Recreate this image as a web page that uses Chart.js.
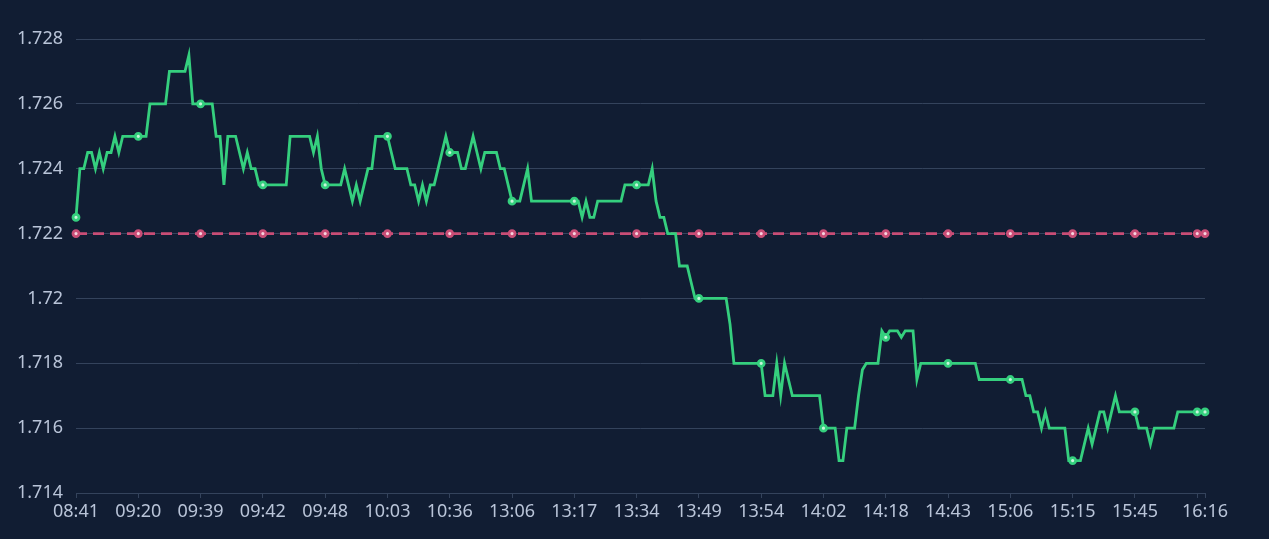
<!DOCTYPE html>
<html>
<head>
<meta charset="utf-8">
<script src="https://cdn.jsdelivr.net/npm/chart.js@4.4.1/dist/chart.umd.min.js"></script>
<style>
    html, body { margin: 0; padding: 0; background: #111d33; }
    #wrap { width: 1269px; height: 539px; }
</style>
</head>
<body>
<div id="wrap"><canvas id="priceChart"></canvas></div>
<script>
// price ticks, one row per label interval (16 points each)
const prices = [
    1.7225, 1.724, 1.724, 1.7245, 1.7245, 1.724, 1.7245, 1.724, 1.7245, 1.7245, 1.725, 1.7245, 1.725, 1.725, 1.725, 1.725,
    1.725, 1.725, 1.725, 1.726, 1.726, 1.726, 1.726, 1.726, 1.727, 1.727, 1.727, 1.727, 1.727, 1.7275, 1.726, 1.726,
    1.726, 1.726, 1.726, 1.726, 1.725, 1.725, 1.7235, 1.725, 1.725, 1.725, 1.7245, 1.724, 1.7245, 1.724, 1.724, 1.7235,
    1.7235, 1.7235, 1.7235, 1.7235, 1.7235, 1.7235, 1.7235, 1.725, 1.725, 1.725, 1.725, 1.725, 1.725, 1.7245, 1.725, 1.724,
    1.7235, 1.7235, 1.7235, 1.7235, 1.7235, 1.724, 1.7235, 1.723, 1.7235, 1.723, 1.7235, 1.724, 1.724, 1.725, 1.725, 1.725,
    1.725, 1.7245, 1.724, 1.724, 1.724, 1.724, 1.7235, 1.7235, 1.723, 1.7235, 1.723, 1.7235, 1.7235, 1.724, 1.7245, 1.725,
    1.7245, 1.7245, 1.7245, 1.724, 1.724, 1.7245, 1.725, 1.7245, 1.724, 1.7245, 1.7245, 1.7245, 1.7245, 1.724, 1.724, 1.7235,
    1.723, 1.723, 1.723, 1.7235, 1.724, 1.723, 1.723, 1.723, 1.723, 1.723, 1.723, 1.723, 1.723, 1.723, 1.723, 1.723,
    1.723, 1.723, 1.7225, 1.723, 1.7225, 1.7225, 1.723, 1.723, 1.723, 1.723, 1.723, 1.723, 1.723, 1.7235, 1.7235, 1.7235,
    1.7235, 1.7235, 1.7235, 1.7235, 1.724, 1.723, 1.7225, 1.7225, 1.722, 1.722, 1.722, 1.721, 1.721, 1.721, 1.7205, 1.720,
    1.720, 1.720, 1.720, 1.720, 1.720, 1.720, 1.720, 1.720, 1.7192, 1.718, 1.718, 1.718, 1.718, 1.718, 1.718, 1.718,
    1.718, 1.717, 1.717, 1.717, 1.718, 1.717, 1.718, 1.7175, 1.717, 1.717, 1.717, 1.717, 1.717, 1.717, 1.717, 1.717,
    1.716, 1.716, 1.716, 1.716, 1.715, 1.715, 1.716, 1.716, 1.716, 1.717, 1.7178, 1.718, 1.718, 1.718, 1.718, 1.719,
    1.7188, 1.719, 1.719, 1.719, 1.7188, 1.719, 1.719, 1.719, 1.7175, 1.718, 1.718, 1.718, 1.718, 1.718, 1.718, 1.718,
    1.718, 1.718, 1.718, 1.718, 1.718, 1.718, 1.718, 1.718, 1.7175, 1.7175, 1.7175, 1.7175, 1.7175, 1.7175, 1.7175, 1.7175,
    1.7175, 1.7175, 1.7175, 1.7175, 1.717, 1.717, 1.7165, 1.7165, 1.716, 1.7165, 1.716, 1.716, 1.716, 1.716, 1.716, 1.715,
    1.715, 1.715, 1.715, 1.7155, 1.716, 1.7155, 1.716, 1.7165, 1.7165, 1.716, 1.7165, 1.717, 1.7165, 1.7165, 1.7165, 1.7165,
    1.7165, 1.716, 1.716, 1.716, 1.7155, 1.716, 1.716, 1.716, 1.716, 1.716, 1.716, 1.7165, 1.7165, 1.7165, 1.7165, 1.7165,
    1.7165, 1.7165, 1.7165
];

const basePrice = 1.722;

// axis ticks (point index) and their labels
const tickIndex = [0, 16, 32, 48, 64, 80, 96, 112, 128, 144, 160, 176, 192, 208, 224, 240, 256, 272, 288, 290];
const timeLabels = ['08:41', '09:20', '09:39', '09:42', '09:48', '10:03', '10:36', '13:06', '13:17', '13:34',
    '13:49', '13:54', '14:02', '14:18', '14:43', '15:06', '15:15', '15:45', '', '16:16'];

const yTicks = { min: 1.714, max: 1.728, step: 0.002 };

const gridColor = '#34435c';
const textColor = '#b9c4d8';
const lineGreen = '#35cf7e';
const linePink = '#c94d76';

const priceData = prices.map((v, i) => ({ x: i, y: v }));
const baseData = prices.map((_, i) => ({ x: i, y: basePrice }));

function dotRadius(ctx) {
    return tickIndex.includes(ctx.dataIndex) ? 3 : 0;
}

const ctx = document.getElementById('priceChart').getContext('2d');
new Chart(ctx, {
    type: 'line',
    data: {
        datasets: [{
            label: 'price',
            data: priceData,
            borderColor: lineGreen,
            borderWidth: 2.8,
            tension: 0,
            clip: 10,
            pointRadius: dotRadius,
            pointBorderWidth: 2.8,
            pointBorderColor: lineGreen,
            pointBackgroundColor: '#c8f5dc'
        }, {
            label: 'base',
            data: baseData,
            borderColor: linePink,
            borderWidth: 2.8,
            borderDash: [11, 6],
            tension: 0,
            clip: 10,
            pointRadius: dotRadius,
            pointBorderWidth: 2.8,
            pointBorderColor: linePink,
            pointBackgroundColor: '#f7d3df'
        }]
    },
    options: {
        responsive: true,
        maintainAspectRatio: false,
        animation: false,
        layout: {
            padding: { left: 0, right: 64, top: 39, bottom: 0 }
        },
        plugins: {
            legend: { display: false },
            tooltip: { enabled: false }
        },
        scales: {
            x: {
                type: 'linear',
                min: 0,
                max: prices.length - 1,
                afterBuildTicks: (scale) => {
                    scale.ticks = tickIndex.map(v => ({ value: v }));
                },
                afterFit: (scale) => { scale.height = 46; },
                grid: {
                    display: true,
                    drawOnChartArea: false,
                    drawTicks: true,
                    tickLength: 5,
                    color: gridColor
                },
                border: { display: true, color: gridColor },
                ticks: {
                    autoSkip: false,
                    maxRotation: 0,
                    padding: 3,
                    color: textColor,
                    font: { family: '"Noto Sans", sans-serif', size: 18 },
                    callback: (value) => {
                        const k = tickIndex.indexOf(value);
                        return k >= 0 ? timeLabels[k] : '';
                    }
                }
            },
            y: {
                min: yTicks.min,
                max: yTicks.max,
                afterFit: (scale) => { scale.width = 76; },
                grid: {
                    color: gridColor,
                    drawTicks: false
                },
                border: { display: false },
                ticks: {
                    stepSize: yTicks.step,
                    padding: 13,
                    color: textColor,
                    font: { family: '"Noto Sans", sans-serif', size: 18 },
                    callback: (value) => String(parseFloat(value.toFixed(3)))
                }
            }
        }
    }
});
</script>
</body>
</html>
